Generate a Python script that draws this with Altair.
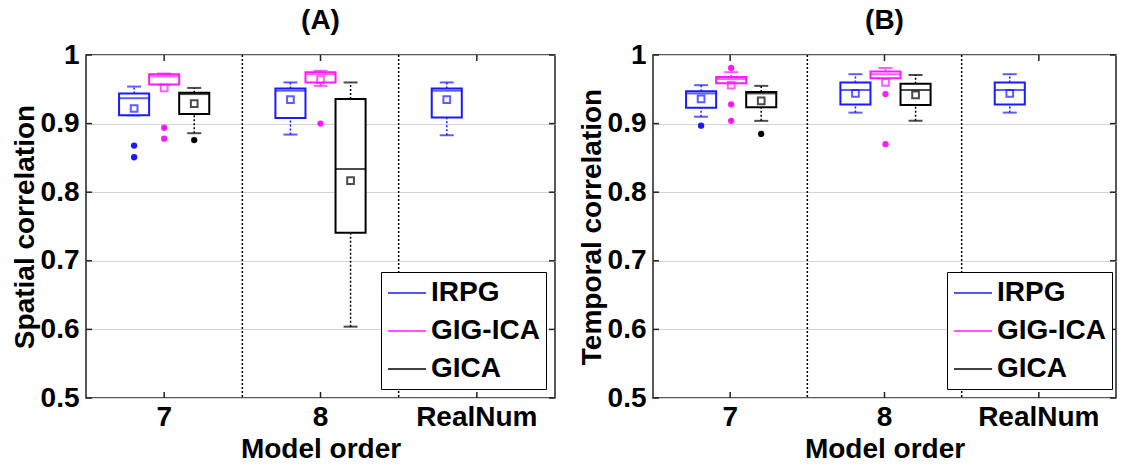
import altair as alt
import pandas as pd

FONT = "Liberation Sans"
FS = 28

categories = ["7", "8", "RealNum"]
methods = ["IRPG", "GIG-ICA", "GICA"]
method_colors = ["#1a1aff", "#ff1aff", "#000000"]
y_ticks = [0.5, 0.6, 0.7, 0.8, 0.9, 1.0]

# box statistics
box_panel = ["A", "A", "A", "A", "A", "A", "A", "B", "B", "B", "B", "B", "B", "B"]
box_cat = ["7", "7", "7", "8", "8", "8", "RealNum", "7", "7", "7", "8", "8", "8", "RealNum"]
box_method = ["IRPG", "GIG-ICA", "GICA", "IRPG", "GIG-ICA", "GICA", "IRPG",
              "IRPG", "GIG-ICA", "GICA", "IRPG", "GIG-ICA", "GICA", "IRPG"]
box_lo = [0.912, 0.957, 0.886, 0.884, 0.955, 0.604, 0.883,
          0.910, 0.959, 0.904, 0.916, 0.966, 0.904, 0.916]
box_q1 = [0.912, 0.957, 0.914, 0.908, 0.960, 0.741, 0.909,
          0.923, 0.959, 0.924, 0.928, 0.966, 0.927, 0.928]
box_med = [0.937, 0.969, 0.943, 0.948, 0.972, 0.834, 0.948,
           0.944, 0.965, 0.944, 0.949, 0.972, 0.949, 0.949]
box_q3 = [0.944, 0.972, 0.945, 0.951, 0.975, 0.936, 0.951,
          0.947, 0.968, 0.946, 0.960, 0.976, 0.958, 0.960]
box_hi = [0.954, 0.973, 0.952, 0.960, 0.977, 0.960, 0.960,
          0.956, 0.975, 0.955, 0.972, 0.981, 0.971, 0.972]
box_mean = [0.922, 0.952, 0.929, 0.935, 0.964, 0.817, 0.935,
            0.936, 0.956, 0.933, 0.944, 0.960, 0.942, 0.944]

out_panel = ["A", "A", "A", "A", "A", "A", "B", "B", "B", "B", "B", "B", "B"]
out_cat = ["7", "7", "7", "7", "7", "8", "7", "7", "7", "7", "7", "8", "8"]
out_method = ["IRPG", "IRPG", "GIG-ICA", "GIG-ICA", "GICA", "GIG-ICA",
              "IRPG", "GIG-ICA", "GIG-ICA", "GIG-ICA", "GICA", "GIG-ICA", "GIG-ICA"]
out_value = [0.868, 0.851, 0.894, 0.878, 0.876, 0.900,
             0.897, 0.981, 0.928, 0.904, 0.885, 0.943, 0.870]

separators = ["7", "8"]
# slot order inside each category (empty slots at both ends keep the boxes centred)
offset_slots = ["_l", "IRPG", "GIG-ICA", "GICA", "_r"]

box_df = pd.DataFrame(dict(panel=box_panel, cat=box_cat, method=box_method, lo=box_lo,
                           q1=box_q1, med=box_med, q3=box_q3, hi=box_hi, mean=box_mean))
out_df = pd.DataFrame(dict(panel=out_panel, cat=out_cat, method=out_method, value=out_value))
sep_df = pd.DataFrame(dict(cat=separators))
tick_df = pd.DataFrame(dict(v=y_ticks))
cat_df = pd.DataFrame(dict(cat=categories))

H = 343


def panel(p, ytitle, title, W, legend_x):
    d = box_df[box_df.panel == p]
    o = out_df[out_df.panel == p]
    xscale = alt.Scale(domain=categories, paddingInner=0, paddingOuter=0)
    xaxis = alt.Axis(title="Model order", labelAngle=0, labelAlign="center", ticks=False,
                     domain=False, labelFont=FONT, labelFontSize=FS, labelFontWeight="bold",
                     labelColor="black", labelPadding=5, titleFont=FONT, titleFontSize=FS,
                     titleFontWeight="bold", titleColor="black", titlePadding=4)
    yscale = alt.Scale(domain=[0.5, 1.0], nice=False, zero=False)
    yaxis = alt.Axis(title=ytitle, values=y_ticks, format="~g", ticks=False, domain=False,
                     labelFont=FONT, labelFontSize=FS, labelFontWeight="bold", labelColor="black",
                     labelPadding=7, labelOverlap=False, gridColor="#d4d4d4", gridWidth=1,
                     titleFont=FONT, titleFontSize=FS, titleFontWeight="bold", titleColor="black",
                     titlePadding=1)
    xo = alt.XOffset("method:N", scale=alt.Scale(domain=offset_slots, paddingInner=0,
                                                 paddingOuter=0.1))
    cscale = alt.Scale(domain=methods, range=method_colors)

    base = alt.Chart(d)
    x_enc = alt.X("cat:N", scale=xscale, axis=xaxis)
    col = alt.Color("method:N", scale=cscale, legend=None)

    tt = alt.Chart(cat_df).transform_calculate(v0="1.0").mark_rule(
        color="#222", strokeWidth=1.5).encode(
        x=x_enc, y=alt.Y("v0:Q", scale=yscale, axis=yaxis), y2=alt.value(6))
    bt = alt.Chart(cat_df).mark_rule(color="#222", strokeWidth=1.5).encode(
        x=x_enc, y=alt.value(H - 6), y2=alt.value(H))
    seps = alt.Chart(sep_df).mark_rule(strokeDash=[2, 2], strokeWidth=1.5, color="black").encode(
        x=alt.X("cat:N", scale=xscale, bandPosition=1), y=alt.value(0), y2=alt.value(H))
    lt = alt.Chart(tick_df).mark_rule(color="#222", strokeWidth=1.5).encode(
        y=alt.Y("v:Q", scale=yscale), x=alt.value(0), x2=alt.value(6))
    rt = alt.Chart(tick_df).mark_rule(color="#222", strokeWidth=1.5).encode(
        y=alt.Y("v:Q", scale=yscale), x=alt.value(W - 6), x2=alt.value(W))

    whisk_up = base.mark_rule(strokeDash=[2, 2], strokeWidth=1.5).encode(
        x=x_enc, xOffset=xo, y=alt.Y("q3:Q", scale=yscale), y2="hi:Q", color=col)
    whisk_lo = base.mark_rule(strokeDash=[2, 2], strokeWidth=1.5).encode(
        x=x_enc, xOffset=xo, y=alt.Y("lo:Q", scale=yscale), y2="q1:Q", color=col)
    cap_hi = base.mark_tick(size=14, thickness=2).encode(
        x=x_enc, xOffset=xo, y=alt.Y("hi:Q", scale=yscale), color=col)
    cap_lo = base.mark_tick(size=14, thickness=2).encode(
        x=x_enc, xOffset=xo, y=alt.Y("lo:Q", scale=yscale), color=col)
    boxes = base.mark_bar(fill="white", strokeWidth=2).encode(
        x=x_enc, xOffset=xo, y=alt.Y("q1:Q", scale=yscale), y2="q3:Q",
        stroke=alt.Stroke("method:N", scale=cscale, title=None,
                          legend=alt.Legend(orient="none", legendX=legend_x, legendY=217,
                                            symbolType="M-1,0H1.72", symbolSize=784,
                                            symbolStrokeWidth=1.5, labelFont=FONT,
                                            labelFontSize=FS, labelFontWeight="bold",
                                            labelColor="black", rowPadding=9,
                                            labelOffset=14, strokeColor="black",
                                            fillColor="white", padding=6, symbolOffset=0)))
    med = base.mark_tick(size=30, thickness=2).encode(
        x=x_enc, xOffset=xo, y=alt.Y("med:Q", scale=yscale), color=col)
    mean = base.mark_point(shape="square", filled=False, size=45, strokeWidth=2).encode(
        x=x_enc, xOffset=xo, y=alt.Y("mean:Q", scale=yscale), color=col)
    outl = alt.Chart(o).mark_circle(size=40, opacity=1).encode(
        x=x_enc, xOffset=xo, y=alt.Y("value:Q", scale=yscale), color=col)

    return alt.layer(tt, bt, seps, lt, rt, whisk_up, whisk_lo, cap_hi, cap_lo,
                     boxes, med, mean, outl).properties(
        width=W, height=H,
        title=alt.TitleParams(title, font=FONT, fontSize=FS, fontWeight="bold",
                              color="black", anchor="middle", offset=6))


pa = panel("A", "Spatial correlation", "(A)", 469, 295)
pb = panel("B", "Temporal correlation", "(B)", 463, 294)

chart = alt.hconcat(pa, pb, spacing=20).resolve_legend(stroke="independent").properties(
    padding={"left": 10, "top": 6, "right": 0, "bottom": 0}
).configure(background="white",
            view=alt.ViewConfig(stroke="#222", strokeWidth=1.5))

chart.save("out.html", embed_options={"renderer": "svg", "actions": False})
